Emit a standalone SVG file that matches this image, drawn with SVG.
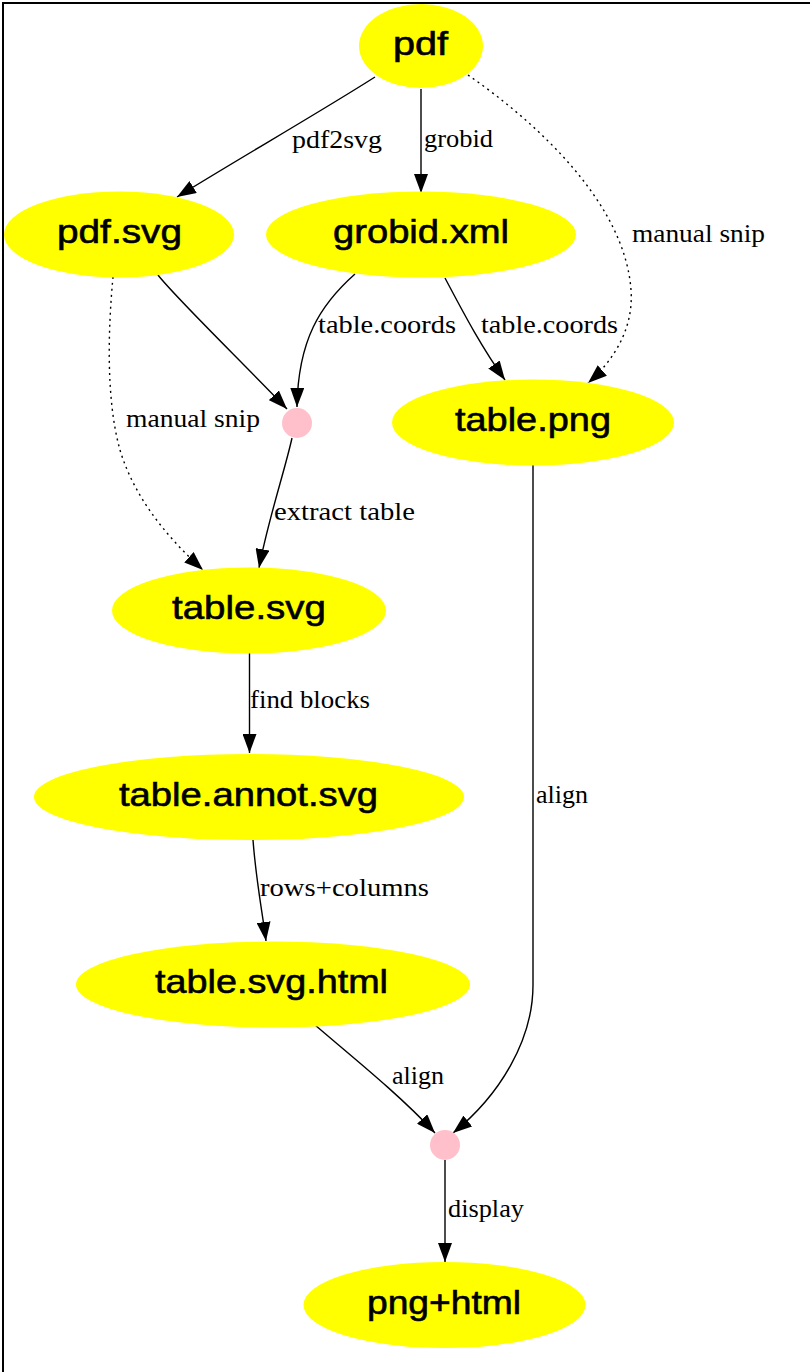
<svg xmlns="http://www.w3.org/2000/svg" width="810" height="1372" viewBox="0 0 810 1372">
<style>
.n{fill:#ffff00;stroke:none}
.p{fill:#ffc0cb;stroke:none}
.nt{font-family:"Liberation Sans",Arial,sans-serif;font-size:33px;fill:#000;stroke:#000;stroke-width:0.6}
.et{font-family:"Liberation Serif","Times New Roman",serif;font-size:26px;fill:#000}
.e{fill:none;stroke:#000;stroke-width:1.4;marker-end:url(#ah)}
.d{stroke-dasharray:2 4}
</style>
<defs>
<marker id="ah" markerUnits="userSpaceOnUse" viewBox="0 0 19 14" markerWidth="19" markerHeight="14" refX="19" refY="7" orient="auto">
<path d="M0,0 L19,7 L0,14 Z" fill="#000"/>
</marker>
</defs>
<rect width="810" height="1372" fill="#fff"/>
<g id="border" stroke="#000" stroke-width="2">
<line x1="2" y1="3" x2="810" y2="3"/>
<line x1="3" y1="2" x2="3" y2="1372"/>
</g>
<g id="edges">
<path class="e" d="M375,77 C320,112 240,158 177,197"/>
<path class="e" d="M421,89 L421,193"/>
<path class="e d" d="M468,75 C540,125 625,205 631,290 C634,330 612,362 588,383"/>
<path class="e" d="M158,275 C175,297 240,360 287,409"/>
<path class="e" d="M355,274 C320,305 298,340 297,407"/>
<path class="e" d="M445,278 C462,310 480,345 505,380"/>
<path class="e d" d="M113,277 C108,330 106,400 120,450 C135,500 170,540 203,570"/>
<path class="e" d="M292,438 C285,470 268,520 259,568"/>
<path class="e" d="M249.5,653 L249.5,753"/>
<path class="e" d="M253,840 C256,880 262,910 266,941"/>
<path class="e" d="M533,465 L533,985 C533,1040 500,1095 453,1133"/>
<path class="e" d="M315,1025 C350,1055 400,1095 435,1133"/>
<path class="e" d="M445,1160 L445,1262"/>
<text class="et" x="292" y="148" textLength="90" lengthAdjust="spacingAndGlyphs">pdf2svg</text>
<text class="et" x="424" y="147" textLength="69" lengthAdjust="spacingAndGlyphs">grobid</text>
<text class="et" x="632" y="242" textLength="133" lengthAdjust="spacingAndGlyphs">manual snip</text>
<text class="et" x="318" y="333" textLength="138" lengthAdjust="spacingAndGlyphs">table.coords</text>
<text class="et" x="481" y="333" textLength="137" lengthAdjust="spacingAndGlyphs">table.coords</text>
<text class="et" x="126" y="427" textLength="134" lengthAdjust="spacingAndGlyphs">manual snip</text>
<text class="et" x="274" y="520" textLength="141" lengthAdjust="spacingAndGlyphs">extract table</text>
<text class="et" x="250" y="708" textLength="120" lengthAdjust="spacingAndGlyphs">find blocks</text>
<text class="et" x="536" y="803" textLength="52" lengthAdjust="spacingAndGlyphs">align</text>
<text class="et" x="260" y="896" textLength="169" lengthAdjust="spacingAndGlyphs">rows+columns</text>
<text class="et" x="392" y="1084" textLength="52" lengthAdjust="spacingAndGlyphs">align</text>
<text class="et" x="448" y="1217" textLength="76" lengthAdjust="spacingAndGlyphs">display</text>
</g>
<g id="node-pdf"><ellipse class="n" cx="421" cy="46" rx="62" ry="42"/><text class="nt" x="393" y="55" textLength="55" lengthAdjust="spacingAndGlyphs">pdf</text></g>
<g id="node-pdfsvg"><ellipse class="n" cx="119" cy="234.5" rx="115" ry="43"/><text class="nt" x="57" y="243" textLength="125" lengthAdjust="spacingAndGlyphs">pdf.svg</text></g>
<g id="node-grobidxml"><ellipse class="n" cx="421" cy="234.5" rx="155" ry="43"/><text class="nt" x="333" y="243" textLength="176" lengthAdjust="spacingAndGlyphs">grobid.xml</text></g>
<g id="node-tablepng"><ellipse class="n" cx="533" cy="422.5" rx="141" ry="43"/><text class="nt" x="455" y="431" textLength="156" lengthAdjust="spacingAndGlyphs">table.png</text></g>
<g id="node-join1"><circle class="p" cx="297" cy="423" r="15"/></g>
<g id="node-tablesvg"><ellipse class="n" cx="249" cy="610.5" rx="137" ry="43"/><text class="nt" x="172" y="619" textLength="154" lengthAdjust="spacingAndGlyphs">table.svg</text></g>
<g id="node-tableannotsvg"><ellipse class="n" cx="249" cy="797" rx="215" ry="43"/><text class="nt" x="119" y="805.5" textLength="259" lengthAdjust="spacingAndGlyphs">table.annot.svg</text></g>
<g id="node-tablesvghtml"><ellipse class="n" cx="273" cy="984.5" rx="197" ry="43"/><text class="nt" x="155" y="993" textLength="233" lengthAdjust="spacingAndGlyphs">table.svg.html</text></g>
<g id="node-join2"><circle class="p" cx="445" cy="1145" r="15"/></g>
<g id="node-pnghtml"><ellipse class="n" cx="444.5" cy="1305" rx="141" ry="43"/><text class="nt" x="367" y="1313.5" textLength="154" lengthAdjust="spacingAndGlyphs">png+html</text></g>
</svg>
